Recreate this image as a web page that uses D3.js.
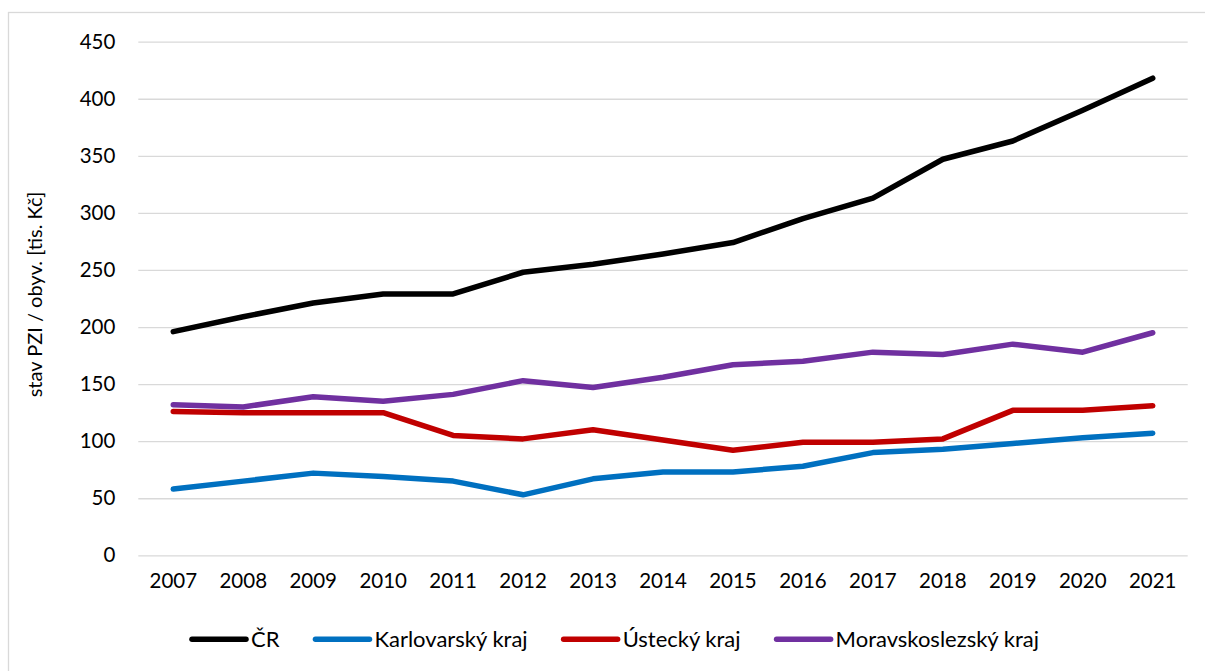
<!DOCTYPE html>
<html><head><meta charset="utf-8">
<script src="https://cdn.jsdelivr.net/npm/d3@7"></script>
<style>html,body{margin:0;padding:0;background:#fff;} svg{display:block;font-family:Lato,"Open Sans",sans-serif;}</style>
</head><body>
<svg id="c" width="1205" height="671"></svg>
<script>
const years = ["2007","2008","2009","2010","2011","2012","2013","2014","2015","2016","2017","2018","2019","2020","2021"];
const seriesNames = ["ČR","Karlovarský kraj","Ústecký kraj","Moravskoslezský kraj"];
const seriesColors = ["#000000","#0070c0","#c00000","#7030a0"];
const valuesCR = [196,209,221,229,229,248,255,264,274,295,313,347,363,390,418];
const valuesKarlovarsky = [58,65,72,69,65,53,67,73,73,78,90,93,98,103,107];
const valuesUstecky = [126,125,125,125,105,102,110,101,92,99,99,102,127,127,131];
const valuesMoravskoslezsky = [132,130,139,135,141,153,147,156,167,170,178,176,185,178,195];
const yTicks = [0,50,100,150,200,250,300,350,400,450];
const yTitle = "stav PZI / obyv. [tis. Kč]";

const allValues = [valuesCR, valuesKarlovarsky, valuesUstecky, valuesMoravskoslezsky];
const svg = d3.select("#c");
const L = 138.3, R = 1187.7, T = 41.7, B = 555.3;

svg.append("rect").attr("x",8.5).attr("y",12.5).attr("width",1230).attr("height",700)
  .attr("fill","#fff").attr("stroke","#d9d9d9").attr("stroke-width",1.3);

const x = d3.scaleBand().domain(years).range([L,R]);
const y = d3.scaleLinear().domain([0,450]).range([B,T]);

const yAxis = d3.axisLeft(y).tickValues(yTicks).tickSize(-(R-L)).tickPadding(23);
const gy = svg.append("g").attr("transform",`translate(${L},0)`).call(yAxis);
gy.select(".domain").remove();
gy.selectAll(".tick line").attr("stroke","#d9d9d9").attr("stroke-width",1.3);
gy.selectAll(".tick text").attr("font-size",20.5).attr("fill","#000").attr("font-family","Lato");

const xAxis = d3.axisBottom(x).tickSize(0).tickPadding(18);
const gx = svg.append("g").attr("transform",`translate(0,${B})`).call(xAxis);
gx.select(".domain").remove();
gx.selectAll(".tick text").attr("font-size",20.5).attr("fill","#000").attr("font-family","Lato");

const line = d3.line().x((d,i)=>x(years[i])+x.bandwidth()/2).y(d=>y(d));
allValues.forEach((vals,k)=>{
  svg.append("path").datum(vals).attr("d",line).attr("fill","none")
    .attr("stroke",seriesColors[k]).attr("stroke-width",5.5)
    .attr("stroke-linejoin","round").attr("stroke-linecap","round");
});

svg.append("text").attr("transform",`translate(42,${(T+B)/2 - 4}) rotate(-90)`)
  .attr("text-anchor","middle").attr("font-size",20).attr("fill","#000").text(yTitle);

const lg = svg.append("g");
const items = seriesNames.map((n,k)=>{
  const g = lg.append("g");
  g.append("line").attr("x1",0).attr("x2",54).attr("y1",0).attr("y2",0)
    .attr("stroke",seriesColors[k]).attr("stroke-width",5.5).attr("stroke-linecap","round");
  const t = g.append("text").attr("x",59).attr("y",8).attr("font-size",22).attr("fill","#000").text(n);
  return {g, w: 59 + t.node().getComputedTextLength()};
});
const gap = 36;
const total = d3.sum(items,d=>d.w) + gap*(items.length-1);
let cx = 615.5 - total/2;
items.forEach(it=>{ it.g.attr("transform",`translate(${cx},639.3)`); cx += it.w + gap; });
</script>
</body></html>
